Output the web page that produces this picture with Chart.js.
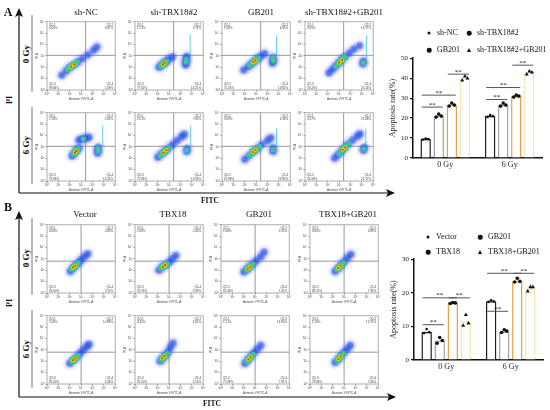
<!DOCTYPE html>
<html>
<head>
<meta charset="utf-8">
<script src="https://cdn.jsdelivr.net/npm/chart.js@4.4.1/dist/chart.umd.min.js"></script>
<style>
    body { margin: 0; background: #fff; }
    #fig { position: relative; width: 550px; height: 410px; overflow: hidden; font-family: "Liberation Serif", serif; color: #111; }
    #fig canvas { position: absolute; }
    .t { position: absolute; white-space: nowrap; transform: translate(-50%, -50%); line-height: 1; }
    .r { transform: translate(-50%, -50%) rotate(-90deg); }
    .lg { position: absolute; white-space: nowrap; font-size: 8px; line-height: 1; transform: translateY(-50%); }
    .mk { position: absolute; transform: translate(-50%, -50%); background: #111; border-radius: 50%; }
</style>
</head>
<body>
<div id="fig">
<svg width="550" height="410" style="position:absolute;left:0;top:0">
    <defs>
        <marker id="ah" markerUnits="userSpaceOnUse" markerWidth="9" markerHeight="8" refX="7" refY="4" orient="auto">
            <path d="M0,0 L9,4 L0,8 L2,4 z" fill="#111"/>
        </marker>
    </defs>
    <g stroke="#111" stroke-width="1.2" fill="none">
        <line x1="19" y1="193" x2="19" y2="10" marker-end="url(#ah)"/>
        <line x1="19" y1="193" x2="393" y2="193" marker-end="url(#ah)"/>
        <line x1="19" y1="397" x2="19" y2="213" marker-end="url(#ah)"/>
        <line x1="19" y1="397" x2="394" y2="397" marker-end="url(#ah)"/>
    </g>
    <g stroke="#555" stroke-width="0.8">
        <line x1="32" y1="15" x2="32" y2="92"/>
        <line x1="32" y1="107" x2="32" y2="184"/>
        <line x1="32" y1="218" x2="32" y2="295"/>
        <line x1="32" y1="310" x2="32" y2="388"/>
    </g>
</svg>
</div>
<script>
// panel names
const A_COLS = ['sh-NC', 'sh-TBX18#2', 'GB201', 'sh-TBX18#2+GB201'];
const B_COLS = ['Vector', 'TBX18', 'GB201', 'TBX18+GB201'];
const ROWS = ['0 Gy', '6 Gy'];
const FLOW_TICKS = ['10\u2070', '10\u00b9', '10\u00b2', '10\u00b3', '10\u2074', '10\u2075', '10\u2076'];
const QUAD_NAMES = ['Q2-1', 'Q2-2', 'Q2-3', 'Q2-4'];

// quadrant percentages, rows 0 Gy then 6 Gy, columns left to right
const A_QUAD = [
    [0.60, 8.47, 89.84, 1.09], [1.23, 2.74, 77.82, 18.21], [1.68, 6.45, 72.05, 19.82], [0.85, 19.77, 59.24, 20.14],
    [2.18, 5.60, 76.98, 15.24], [1.01, 7.05, 72.86, 19.08], [2.09, 6.18, 67.88, 23.85], [3.17, 21.08, 54.58, 21.17]
];
const B_QUAD = [
    [0.08, 2.80, 91.60, 5.52], [1.08, 2.40, 92.53, 3.99], [1.08, 9.15, 82.36, 7.41], [0.86, 3.68, 88.12, 7.34],
    [1.08, 10.88, 81.60, 6.44], [0.45, 4.02, 91.00, 4.53], [1.21, 14.90, 75.98, 7.91], [1.29, 12.17, 78.88, 7.66]
];

// cell populations (log10 FITC, log10 PI): whole cloud, medium density, densest core
const A_BODY = [
    [[1.3, 1.3], [1.7, 1.7], [2.0, 2.0], [2.35, 2.2], [2.7, 2.45], [3.1, 2.75], [3.6, 3.1], [4.1, 3.5], [4.4, 3.8]],
    [[2.1, 2.0], [2.35, 2.2], [2.55, 2.35], [2.75, 2.5], [2.95, 2.7], [3.3, 2.9], [4.45, 2.2], [4.5, 2.45], [4.5, 2.7], [4.55, 2.95]],
    [[1.9, 1.75], [2.3, 2.05], [2.6, 2.3], [2.85, 2.5], [3.1, 2.75], [3.4, 2.95], [3.75, 3.2], [4.45, 2.35], [4.5, 2.6], [4.5, 2.85]],
    [[2.1, 1.5], [2.4, 1.8], [2.7, 2.1], [3.0, 2.4], [3.2, 2.65], [3.5, 2.9], [3.9, 3.25], [4.3, 3.6], [4.8, 3.9], [5.1, 2.3], [5.15, 2.55]],
    [[2.2, 2.2], [2.4, 2.45], [2.6, 2.7], [2.8, 2.9], [4.45, 2.45], [4.5, 2.7], [4.5, 2.95], [2.8, 3.6], [3.1, 3.7], [3.4, 3.75], [3.7, 3.85]],
    [[2.0, 2.1], [2.3, 2.35], [2.6, 2.6], [2.9, 2.85], [3.3, 3.2], [3.7, 3.55], [4.1, 3.9], [4.35, 4.1], [4.55, 2.6], [4.6, 2.85]],
    [[2.0, 1.9], [2.4, 2.25], [2.8, 2.6], [3.1, 2.85], [3.5, 3.2], [4.0, 3.55], [4.3, 3.8], [4.5, 2.6], [4.5, 2.9]],
    [[2.6, 2.0], [2.9, 2.3], [3.2, 2.6], [3.5, 2.95], [3.8, 3.25], [4.2, 3.6], [4.6, 3.95], [4.85, 4.15], [5.15, 2.7], [5.2, 2.95]]
];
const A_MID = [
    [[1.8, 1.8], [2.7, 2.45]],
    [[2.25, 2.1], [2.8, 2.55], [4.5, 2.45], [4.5, 2.7]],
    [[2.4, 2.15], [3.2, 2.8], [4.5, 2.55], [4.5, 2.8]],
    [[2.7, 2.1], [3.5, 2.9], [5.12, 2.4]],
    [[2.3, 2.35], [2.75, 2.85], [4.5, 2.6], [4.5, 2.85], [3.2, 3.7]],
    [[2.2, 2.25], [3.0, 2.9], [4.55, 2.7]],
    [[2.4, 2.25], [3.3, 3.0], [4.5, 2.75]],
    [[3.0, 2.4], [3.9, 3.3], [5.17, 2.8]]
];
const A_CORE = [
    [[2.1, 2.05], [2.4, 2.25]], [[2.45, 2.25], [2.6, 2.4]], [[2.75, 2.45], [2.95, 2.6]], [[3.0, 2.4], [3.25, 2.65]],
    [[2.45, 2.5], [2.6, 2.65]], [[2.5, 2.5], [2.75, 2.7]], [[2.7, 2.55], [2.95, 2.75]], [[3.3, 2.75], [3.55, 2.95]]
];
const A_STREAK = [null, [4.85, 3.0, 4.9], [4.8, 3.0, 4.8], [5.4, 2.8, 4.8], [4.9, 3.0, 4.9], [4.9, 3.0, 4.9], [4.8, 3.0, 4.6], [5.35, 3.0, 4.6]];

const B_BODY = [
    [[2.05, 1.9], [2.3, 2.2], [2.5, 2.4], [2.75, 2.65], [3.0, 2.9], [3.3, 3.2], [3.6, 3.45]],
    [[2.1, 2.0], [2.4, 2.3], [2.7, 2.45], [3.0, 2.7], [3.3, 3.0], [3.6, 3.3]],
    [[2.0, 1.85], [2.3, 2.1], [2.5, 2.3], [2.8, 2.55], [3.1, 2.85], [3.5, 3.2], [3.8, 3.6]],
    [[2.2, 1.9], [2.5, 2.2], [2.75, 2.45], [3.0, 2.75], [3.3, 3.1], [3.6, 3.4]],
    [[2.0, 1.8], [2.3, 2.1], [2.6, 2.35], [2.9, 2.7], [3.2, 3.0], [3.5, 3.3], [3.7, 3.5]],
    [[2.2, 2.0], [2.4, 2.25], [2.65, 2.5], [2.9, 2.8], [3.1, 3.2], [3.35, 3.6]],
    [[2.1, 1.8], [2.35, 2.1], [2.6, 2.4], [2.9, 2.75], [3.2, 3.05], [3.5, 3.4]],
    [[2.2, 1.9], [2.5, 2.2], [2.75, 2.5], [3.0, 2.8], [3.3, 3.1], [3.55, 3.4]]
];
const B_MID = [
    [[2.15, 2.05], [2.75, 2.65]], [[2.25, 2.15], [2.85, 2.6]], [[2.2, 2.0], [2.8, 2.55]], [[2.35, 2.05], [2.95, 2.65]],
    [[2.15, 1.95], [2.75, 2.5]], [[2.25, 2.1], [2.85, 2.7]], [[2.25, 1.95], [2.85, 2.6]], [[2.35, 2.05], [2.95, 2.7]]
];
const B_CORE = [
    [[2.3, 2.25], [2.5, 2.4]], [[2.45, 2.3], [2.65, 2.45]], [[2.35, 2.15], [2.55, 2.3]], [[2.5, 2.2], [2.7, 2.4]],
    [[2.3, 2.1], [2.5, 2.25]], [[2.4, 2.25], [2.6, 2.45]], [[2.4, 2.15], [2.6, 2.35]], [[2.5, 2.2], [2.7, 2.4]]
];

// bar charts
const GROUPS = ['0 Gy', '6 Gy'];
const A_MEANS = [[9.5, 21], [21, 26.5], [26.5, 31], [40, 43]];
const A_POINTS = [
    [[9.3, 9.8, 9.5], [20.6, 21.5, 21]],
    [[20.5, 22, 21], [26, 27.5, 26.5]],
    [[26, 27.5, 26.5], [30.5, 31.5, 31]],
    [[39, 41, 40], [42, 43.5, 43]]
];
const A_SIG = [[0, 0, 1, 25.5], [0, 0, 2, 31.5], [0, 2, 3, 42], [1, 0, 1, 29.3], [1, 0, 2, 35.3], [1, 2, 3, 46.5]];

const B_MEANS = [[8.3, 17.5], [5.8, 8.5], [17, 23.5], [11.5, 21.3]];
const B_POINTS = [
    [[8.0, 9.2, 8.3], [17.3, 17.8, 17.5]],
    [[5.0, 6.7, 5.8], [8.2, 9.0, 8.6]],
    [[16.8, 17.1, 17.0], [23.2, 24.3, 23.4]],
    [[10.3, 13.5, 11.0], [20.5, 21.8, 21.8]]
];
const B_SIG = [[0, 0, 1, 10.5], [0, 0, 2, 18.5], [0, 2, 3, 18.5], [1, 0, 1, 14.5], [1, 0, 2, 25.8], [1, 2, 3, 25.8]];

const SERIES_COLORS = ['#1c1c1c', '#a3a3a3', '#e2a24e', '#f4e4b6'];
const SHAPES = ['dot', 'circle', 'circle', 'triangle'];
const FONT = 'Liberation Serif';

const fig = document.getElementById('fig');

function text(str, x, y, css, rotate) {
    const d = document.createElement('div');
    d.className = rotate ? 't r' : 't';
    d.style.left = x + 'px';
    d.style.top = y + 'px';
    d.style.cssText += css;
    d.textContent = str;
    fig.appendChild(d);
}

const flowDeco = {
    id: 'flowDeco',
    beforeDatasetsDraw(chart, args, opts) {
        const { ctx, chartArea: a, scales: { x, y } } = chart;
        const px = x.getPixelForValue(opts.qx);
        const py = y.getPixelForValue(opts.qy);
        ctx.save();
        ctx.strokeStyle = '#8c8c8c';
        ctx.lineWidth = 0.9;
        ctx.beginPath();
        ctx.moveTo(px, a.top); ctx.lineTo(px, a.bottom);
        ctx.moveTo(a.left, py); ctx.lineTo(a.right, py);
        ctx.stroke();
        ctx.restore();
    },
    afterDatasetsDraw(chart, args, opts) {
        const { ctx, chartArea: a } = chart;
        ctx.save();
        ctx.strokeStyle = '#9a9a9a';
        ctx.lineWidth = 0.8;
        ctx.strokeRect(a.left, a.top, a.right - a.left, a.bottom - a.top);
        ctx.fillStyle = '#444';
        ctx.font = '3px "Liberation Sans"';
        const q = opts.quad;
        const put = (i, x, y, align) => {
            ctx.textAlign = align;
            ctx.fillText(QUAD_NAMES[i], x, y);
            ctx.fillText(q[i].toFixed(2) + '%', x, y + 3.5);
        };
        put(0, a.left + 2, a.top + 4, 'left');
        put(1, a.right - 2, a.top + 4, 'right');
        put(2, a.left + 2, a.bottom - 5, 'left');
        put(3, a.right - 2, a.bottom - 5, 'right');
        ctx.restore();
    }
};

function pts(list) {
    return list.map(p => ({ x: p[0], y: p[1] }));
}

function flowAxis(title) {
    return {
        type: 'linear', min: 0, max: 6,
        ticks: { stepSize: 1, font: { size: 3, family: 'Liberation Sans' }, color: '#444', padding: 1, callback: v => FLOW_TICKS[v] },
        grid: { drawOnChartArea: false, tickLength: 1.5, color: '#999' },
        border: { display: false },
        title: { display: true, text: title, font: { size: 3, family: 'Liberation Sans' }, color: '#444', padding: 0 }
    };
}

function addFlow(left, top, body, mid, core, streak, quad, qx, qy) {
    const c = document.createElement('canvas');
    c.width = 12 + 72 + 3;
    c.height = 2 + 73 + 11;
    c.style.left = (left - 12) + 'px';
    c.style.top = (top - 2) + 'px';
    fig.appendChild(c);
    const datasets = [
        { data: pts(core), pointRadius: 1.1, backgroundColor: '#e5231b', order: 0 },
        { data: pts(core), pointRadius: 2.0, backgroundColor: '#f2e51f', order: 1 },
        { data: pts(core), pointRadius: 2.9, backgroundColor: '#43c945', order: 2 },
        { data: pts(mid), pointRadius: 1.7, backgroundColor: '#4fcc58', order: 3 },
        { data: pts(core), pointRadius: 3.7, backgroundColor: '#2ac6e6', order: 4 },
        { data: pts(mid), pointRadius: 2.8, backgroundColor: 'rgba(35,190,235,0.85)', order: 5 },
        { data: pts(body), pointRadius: 2.6, backgroundColor: 'rgba(30,90,235,0.55)', order: 6 },
        { data: pts(body), pointRadius: 4.3, backgroundColor: 'rgba(35,55,225,0.35)', order: 7 },
        { data: pts(body), pointRadius: 6.8, backgroundColor: 'rgba(70,100,240,0.12)', order: 8 }
    ];
    if (streak) {
        datasets.push({
            data: [{ x: streak[0], y: streak[1] }, { x: streak[0], y: streak[2] }],
            showLine: true, borderColor: '#5fd3e6', borderWidth: 1, pointRadius: 0, order: 9
        });
    }
    datasets.forEach(d => { d.pointBorderWidth = 0; d.pointHoverRadius = 0; });
    new Chart(c, {
        type: 'scatter',
        data: { datasets },
        options: {
            responsive: false,
            animation: false,
            layout: { padding: { top: 2, right: 3 } },
            plugins: { legend: { display: false }, tooltip: { enabled: false }, flowDeco: { qx, qy, quad } },
            scales: {
                x: Object.assign(flowAxis('Annexin V FITC-A'), { afterFit: s => { s.height = 11; } }),
                y: Object.assign(flowAxis('PI-A'), { afterFit: s => { s.width = 12; } })
            }
        },
        plugins: [flowDeco]
    });
}

const barExtras = {
    id: 'barExtras',
    afterDatasetsDraw(chart, args, opts) {
        const { ctx, scales: { y } } = chart;
        ctx.save();
        ctx.fillStyle = '#111';
        opts.points.forEach((series, di) => {
            const meta = chart.getDatasetMeta(di);
            series.forEach((vals, gi) => {
                const bx = meta.data[gi].x;
                vals.forEach((v, k) => {
                    const x = bx + (k - 1) * 2.6;
                    const yy = y.getPixelForValue(v);
                    ctx.beginPath();
                    if (SHAPES[di] === 'triangle') {
                        ctx.moveTo(x, yy - 2.2); ctx.lineTo(x + 2, yy + 1.4); ctx.lineTo(x - 2, yy + 1.4); ctx.closePath();
                    } else {
                        ctx.arc(x, yy, SHAPES[di] === 'dot' ? 1.3 : 1.8, 0, Math.PI * 2);
                    }
                    ctx.fill();
                });
            });
        });
        ctx.strokeStyle = '#555';
        ctx.lineWidth = 1;
        ctx.font = '7px "Liberation Serif"';
        ctx.textAlign = 'center';
        opts.sig.forEach(([g, a, b, v]) => {
            const x1 = chart.getDatasetMeta(a).data[g].x - 4;
            const x2 = chart.getDatasetMeta(b).data[g].x + 4;
            const yy = y.getPixelForValue(v);
            ctx.beginPath(); ctx.moveTo(x1, yy); ctx.lineTo(x2, yy); ctx.stroke();
            ctx.fillText('**', (x1 + x2) / 2, yy - 0.5);
        });
        ctx.restore();
    }
};

function addBars(left, top, plotH, names, means, points, sig, ymax) {
    const c = document.createElement('canvas');
    c.width = 25 + 129 + 5;
    c.height = 6 + plotH + 20;
    c.style.left = left + 'px';
    c.style.top = top + 'px';
    fig.appendChild(c);
    new Chart(c, {
        type: 'bar',
        data: {
            labels: GROUPS,
            datasets: names.map((n, i) => ({
                label: n,
                data: means[i],
                backgroundColor: '#fff',
                borderColor: SERIES_COLORS[i],
                borderWidth: 1.5
            }))
        },
        options: {
            responsive: false,
            animation: false,
            categoryPercentage: 0.81,
            barPercentage: 0.8,
            layout: { padding: { top: 6, right: 5 } },
            plugins: { legend: { display: false }, tooltip: { enabled: false }, barExtras: { points, sig } },
            scales: {
                x: {
                    grid: { display: false, tickLength: 0 },
                    border: { color: '#111', width: 1.5 },
                    ticks: { font: { family: FONT, size: 8 }, color: '#222', padding: 2 },
                    afterFit: s => { s.height = 20; }
                },
                y: {
                    min: 0, max: ymax,
                    ticks: { stepSize: 10, font: { family: FONT, size: 7 }, color: '#222', padding: 2 },
                    grid: { drawOnChartArea: false, tickLength: 3, color: '#111', lineWidth: 1.2 },
                    border: { color: '#111', width: 1.5 },
                    title: { display: true, text: 'Apoptosis rate(%)', font: { family: FONT, size: 8 }, color: '#222', padding: 0 },
                    afterFit: s => { s.width = 25; }
                }
            }
        },
        plugins: [barExtras]
    });
}

function addLegend(names, spots) {
    names.forEach((n, i) => {
        const [x, y] = spots[i];
        const m = document.createElement('div');
        m.className = 'mk';
        if (SHAPES[i] === 'triangle') {
            m.style.cssText = 'left:' + x + 'px;top:' + y + 'px;width:0;height:0;background:none;border-radius:0;' +
                'border-left:2.5px solid transparent;border-right:2.5px solid transparent;border-bottom:4px solid #111;';
        } else {
            const s = SHAPES[i] === 'dot' ? 3 : 4.5;
            m.style.cssText = 'left:' + x + 'px;top:' + y + 'px;width:' + s + 'px;height:' + s + 'px;';
        }
        fig.appendChild(m);
        const t = document.createElement('div');
        t.className = 'lg';
        t.style.left = (x + 8) + 'px';
        t.style.top = y + 'px';
        t.textContent = n;
        fig.appendChild(t);
    });
}

// flow plots
const A_X = [47, 135, 222, 305], B_X = [47, 135, 221, 310];
const A_Y = [17, 108], B_Y = [220, 311];
for (let r = 0; r < 2; r++) {
    for (let k = 0; k < 4; k++) {
        const i = r * 4 + k;
        addFlow(A_X[k], A_Y[r], A_BODY[i], A_MID[i], A_CORE[i], A_STREAK[i], A_QUAD[i], 3.4, 3.05);
        addFlow(B_X[k], B_Y[r], B_BODY[i], B_MID[i], B_CORE[i], null, B_QUAD[i], 3.0, 2.8);
    }
}

A_COLS.forEach((n, k) => text(n, A_X[k] + 39, 12, 'font-size:9px;'));
B_COLS.forEach((n, k) => text(n, B_X[k] + 38, 214, 'font-size:9px;'));
ROWS.forEach((n, r) => {
    text(n, 26, A_Y[r] + 37, 'font-size:9px;font-weight:bold;', true);
    text(n, 26, B_Y[r] + 38, 'font-size:9px;font-weight:bold;', true);
});
text('A', 8, 12, 'font-size:12px;font-weight:bold;');
text('B', 8, 207, 'font-size:12px;font-weight:bold;');
text('PI', 10, 100, 'font-size:8px;font-weight:bold;', true);
text('PI', 10, 303, 'font-size:8px;font-weight:bold;', true);
text('FITC', 210, 201, 'font-size:7.5px;font-weight:bold;');
text('FITC', 212, 404, 'font-size:7.5px;font-weight:bold;');

// bar charts
addBars(388, 52, 100, A_COLS, A_MEANS, A_POINTS, A_SIG, 50);
addBars(389, 253, 101, B_COLS, B_MEANS, B_POINTS, B_SIG, 30);
addLegend(A_COLS, [[429, 33], [469, 33], [429, 50], [469, 50]]);
addLegend(B_COLS, [[428, 237], [428, 252], [480, 237], [480, 252]]);
</script>
</body>
</html>
